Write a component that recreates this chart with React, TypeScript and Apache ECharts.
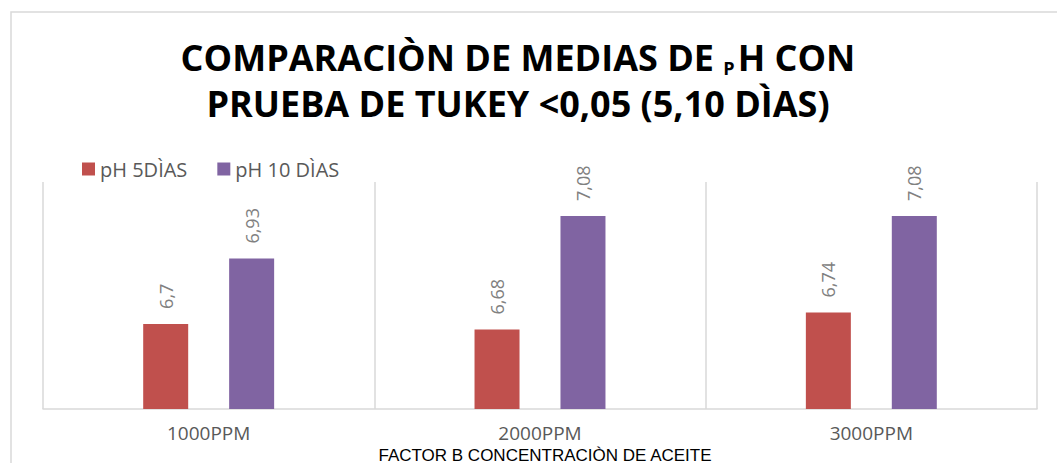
import React, { useEffect, useRef } from "react";
import * as echarts from "echarts";

const categories = ["1000PPM", "2000PPM", "3000PPM"];
const seriesNames = ["pH 5DÌAS", "pH 10 DÌAS"];
const ph5 = [6.7, 6.68, 6.74];
const ph10 = [6.93, 7.08, 7.08];
const axisName = "FACTOR B CONCENTRACIÒN DE ACEITE";
const titleLine1 = "COMPARACIÒN DE MEDIAS DE {sub|P}H CON";
const titleLine2 = "PRUEBA DE TUKEY <0,05 (5,10 DÌAS)";

export default function App() {
  const ref = useRef<HTMLDivElement>(null);
  useEffect(() => {
    if (!ref.current) return;
    const chart = echarts.init(ref.current, undefined, { renderer: "svg" });
    const label = {
      show: true,
      position: "top",
      rotate: 90,
      align: "left",
      verticalAlign: "middle",
      distance: 15,
      fontSize: 18,
      fontFamily: "Open Sans",
      color: "#808080",
      formatter: (p: any) => String(p.value).replace(".", ","),
    };
    const titleStyle = {
      align: "center",
      verticalAlign: "middle",
      fontFamily: "Open Sans",
      fontWeight: "bold",
      fontSize: 36,
      fill: "#000000",
    };
    chart.setOption({
      animation: false,
      backgroundColor: "#ffffff",
      graphic: [
        {
          type: "rect",
          shape: { x: 11, y: 12, width: 1200, height: 600 },
          style: { fill: "none", stroke: "#d9d9d9", lineWidth: 1.5 },
          silent: true,
        },
        {
          type: "text",
          x: 518,
          y: 57,
          style: {
            ...titleStyle,
            text: titleLine1,
            lineHeight: 40,
            rich: {
              sub: {
                fontFamily: "Open Sans",
                fontWeight: "bold",
                fontSize: 18,
                lineHeight: 18,
                verticalAlign: "bottom",
                padding: [0, 3, 0, 0],
                fill: "#000000",
              },
            },
          },
        },
        {
          type: "text",
          x: 518,
          y: 103,
          style: { ...titleStyle, text: titleLine2, lineHeight: 36 },
        },
        {
          type: "text",
          x: 545,
          y: 455,
          style: {
            text: axisName,
            align: "center",
            verticalAlign: "middle",
            fontFamily: "Liberation Sans",
            fontSize: 17,
            lineHeight: 17,
            fill: "#000000",
          },
        },
      ],
      legend: {
        left: 77,
        top: 154,
        icon: "rect",
        itemWidth: 13,
        itemHeight: 13,
        itemGap: 30,
        textStyle: { fontSize: 20, color: "#595959", fontFamily: "Open Sans" },
        data: seriesNames,
      },
      grid: { left: 43, top: 182, width: 994, height: 227, outerBoundsMode: "none", containLabel: false },
      xAxis: {
        type: "category",
        data: categories,
        axisLine: { lineStyle: { color: "#d9d9d9", width: 1.5 } },
        axisTick: { show: false },
        splitLine: { show: true, lineStyle: { color: "#d9d9d9", width: 1.5 } },
        axisLabel: { fontSize: 19, lineHeight: 20, color: "#595959", margin: 14, fontFamily: "Open Sans" },
      },
      yAxis: {
        type: "value",
        min: 6.4,
        max: 7.2,
        show: false,
        splitLine: { show: false },
      },
      series: [
        {
          name: seriesNames[0],
          type: "bar",
          data: ph5,
          barWidth: 45,
          barGap: "91%",
          itemStyle: { color: "#C0504D" },
          label,
        },
        {
          name: seriesNames[1],
          type: "bar",
          data: ph10,
          barWidth: 45,
          barGap: "91%",
          itemStyle: { color: "#8064A2" },
          label,
        },
      ],
    });
    return () => chart.dispose();
  }, []);
  return (
    <div
      ref={ref}
      style={{ position: "absolute", left: 0, top: 0, width: 1057, height: 463 }}
    />
  );
}
